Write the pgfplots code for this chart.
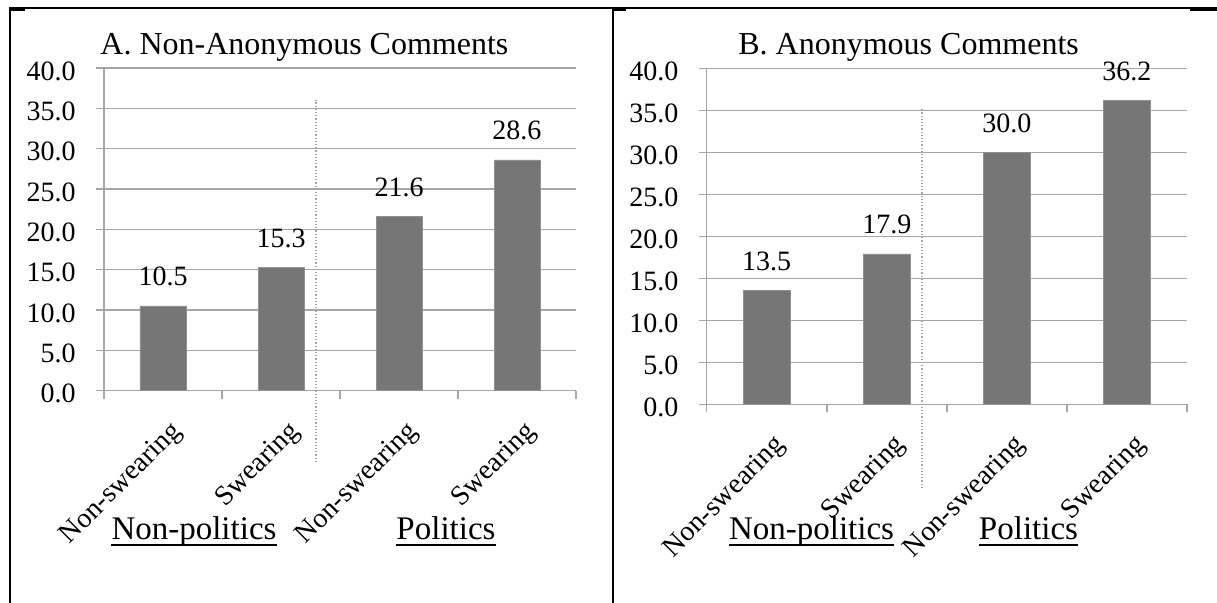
\documentclass[border=0pt]{standalone}
\usepackage{fontspec}
\setmainfont{Liberation Serif}
\usepackage{pgfplots}
\pgfplotsset{compat=1.18}
\definecolor{barfill}{RGB}{118,118,118}
\definecolor{baredge}{RGB}{145,145,145}
\definecolor{gridc}{RGB}{166,166,166}
\definecolor{sepc}{RGB}{165,165,165}
\pgfplotsset{panel/.style={
  scale only axis, anchor=south west, clip=false,
  xmin=-0.5, xmax=3.5, ymin=0, ymax=40,
  axis lines*=left,
  axis line style={gridc, line width=0.75pt},
  ymajorgrids, grid style={gridc, line width=0.75pt},
  tick align=outside,
  major tick length=4pt, minor tick length=4pt,
  tick style={gridc, line width=0.75pt},
  ytick={0,5,...,40},
  /pgf/number format/assume math mode=true,
  yticklabel={\pgfmathprintnumber[fixed,fixed zerofill,precision=1]{\tick}},
  yticklabel style={font=\fontsize{14}{16}\selectfont, inner sep=0pt, anchor=east, xshift=-10pt, yshift=-1.5pt},
  xtick={0,1,2,3},
  xticklabels={Non-swearing,Swearing,Non-swearing,Swearing},
  major x tick style={draw=none},
  minor xtick={-0.5,0.5,1.5,2.5,3.5},
  xticklabel style={font=\fontsize{14}{16}\selectfont, inner sep=0pt, rotate=45, anchor=east, xshift=-5pt, yshift=-15.5pt},
  nodes near coords={\pgfmathprintnumber[fixed,fixed zerofill,precision=1]{\pgfplotspointmeta}},
  every node near coord/.append style={font=\fontsize{14}{16}\selectfont, anchor=base, inner sep=0pt, yshift=10pt, text=black},
}}
\begin{document}
\begin{tikzpicture}
\useasboundingbox (0,0) rectangle (608.5pt,301.5pt);
% table borders
\draw[line width=1pt] (5pt,297.5pt) -- (608.5pt,297.5pt);
\draw[line width=1pt] (5pt,0pt) -- (5pt,298pt);
\draw[line width=1pt] (306.5pt,0pt) -- (306.5pt,298pt);
\draw[line width=1.5pt] (5pt,296.8pt) -- (12.5pt,296.8pt);
\draw[line width=1.5pt] (306.5pt,296.8pt) -- (313pt,296.8pt);
\draw[line width=1.5pt] (595pt,296.8pt) -- (608.5pt,296.8pt);

\begin{axis}[panel, at={(52pt,106.15pt)}, width=236pt, height=161.35pt]
\addplot[ybar, bar width=23pt, fill=barfill, draw=baredge, line width=0.4pt]
  coordinates {(0,10.5) (1,15.3) (2,21.6) (3,28.6)};
\end{axis}

\begin{axis}[panel, at={(353.35pt,99.35pt)}, width=240.15pt, height=168pt]
\addplot[ybar, bar width=23.5pt, fill=barfill, draw=baredge, line width=0.4pt]
  coordinates {(0,13.5) (1,17.9) (2,30.0) (3,36.2)};
\end{axis}

% separators
\draw[sepc, densely dotted, line width=0.6pt] (158pt,70.5pt) -- (158pt,251.5pt);
\draw[sepc, densely dotted, line width=0.6pt] (461pt,57.5pt) -- (461pt,247.5pt);

% titles
\node[anchor=base west, font=\fontsize{16}{19}\selectfont, inner sep=0pt] at (50pt,274pt) {A. Non-Anonymous Comments};
\node[anchor=base west, font=\fontsize{16}{19}\selectfont, inner sep=0pt] at (369pt,274pt) {B. Anonymous Comments};

% group labels
\node[anchor=base, font=\fontsize{16.5}{19}\selectfont, inner sep=0pt] (g1) at (97pt,31.5pt) {Non-politics};
\node[anchor=base, font=\fontsize{16.5}{19}\selectfont, inner sep=0pt] (g2) at (223pt,31.5pt) {Politics};
\node[anchor=base, font=\fontsize{16.5}{19}\selectfont, inner sep=0pt] (g3) at (405.75pt,31.5pt) {Non-politics};
\node[anchor=base, font=\fontsize{16.5}{19}\selectfont, inner sep=0pt] (g4) at (514.25pt,31.5pt) {Politics};
\foreach \g in {g1,g2,g3,g4}{
  \draw[line width=1pt] ([yshift=-2.5pt]\g.base west) -- ([yshift=-2.5pt]\g.base east);
}
\end{tikzpicture}
\end{document}
